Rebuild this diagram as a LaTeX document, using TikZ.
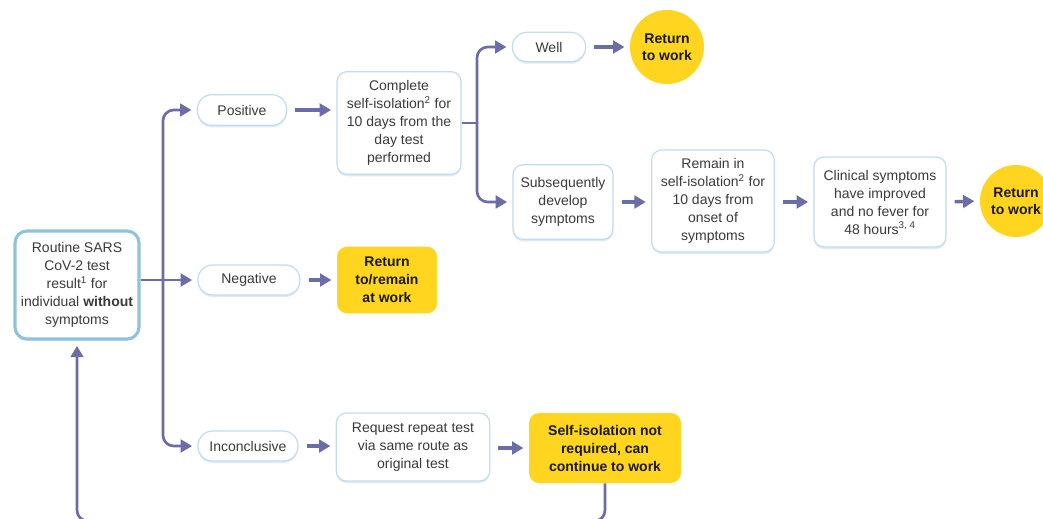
\documentclass[tikz,border=0pt]{standalone}
\usepackage{fontspec}
\setmainfont{Liberation Sans}
\usetikzlibrary{arrows.meta,shadows}
\definecolor{lnc}{HTML}{6C6CA8}
\definecolor{bdr}{HTML}{C3DCEC}
\definecolor{rbdr}{HTML}{8FC2DC}
\definecolor{ylw}{HTML}{FFD520}
\definecolor{txt}{HTML}{3A3A3A}
\definecolor{shd}{HTML}{B5D3E8}
\tikzset{
  base/.style={align=center, font=\fontsize{10.5}{13.5}\selectfont, text=txt, inner sep=1pt},
  wbox/.style={base, draw=bdr, line width=0.9pt, fill=white, rounded corners=7.5pt,
     drop shadow={shadow xshift=0pt, shadow yshift=-1.5pt, fill=shd, opacity=0.45}},
  pill/.style={wbox, rounded corners=11pt},
  ybox/.style={base, fill=ylw, rounded corners=7.5pt, font=\fontsize{10.5}{13.5}\selectfont\bfseries, text=black!90},
  ycirc/.style={base, circle, fill=ylw, font=\fontsize{10.5}{13}\selectfont\bfseries, text=black!90},
  conn/.style={draw=lnc, line width=2pt},
  arr/.style={conn, -{Triangle[length=8.5pt,width=9.5pt]}, shorten >=4pt},
  arrs/.style={arr, line width=2.6pt, shorten <=6pt},
}
\begin{document}
\begin{tikzpicture}[x=0.75pt,y=-0.75pt]
\clip (0,0) rectangle (1043,518);
\fill[white] (0,0) rectangle (1043,518);

\node[wbox, draw=rbdr, line width=2.3pt, minimum width=93pt, minimum height=81pt, rounded corners=9pt] (routine) at (77,285)
  {Routine SARS\\CoV-2 test\\result\textsuperscript{1} for\\individual \textbf{without}\\symptoms};

\node[pill, minimum width=67pt, minimum height=23pt] (pos) at (242,110) {Positive};
\node[pill, minimum width=76.5pt, minimum height=22.5pt] (neg) at (249,280) {Negative};
\node[pill, minimum width=75pt, minimum height=22.5pt] (inc) at (248,446) {Inconclusive};

\node[wbox, minimum width=93pt, minimum height=77pt] (compl) at (399,123)
  {Complete\\self-isolation\textsuperscript{2} for\\10 days from the\\day test\\performed};
\node[ybox, minimum width=75pt, minimum height=50pt] (rem) at (387,280)
  {Return\\to/remain\\at work};
\node[wbox, minimum width=115pt, minimum height=51pt] (req) at (413,447)
  {Request repeat test\\via same route as\\original test};
\node[ybox, minimum width=114pt, minimum height=52.5pt] (self) at (605,448)
  {Self-isolation not\\required, can\\continue to work};

\node[pill, minimum width=55pt, minimum height=22pt] (well) at (549,47) {Well};
\node[ycirc, minimum size=55.5pt] (ret1) at (667,47) {Return\\to work};

\node[wbox, minimum width=75pt, minimum height=56pt] (subs) at (563,202)
  {Subsequently\\develop\\symptoms};
\node[wbox, minimum width=92pt, minimum height=76.5pt] (remain) at (713,201)
  {Remain in\\self-isolation\textsuperscript{2} for\\10 days from\\onset of\\symptoms};
\node[wbox, minimum width=99pt, minimum height=67.5pt] (clin) at (880,202)
  {Clinical symptoms\\have improved\\and no fever for\\48 hours\textsuperscript{3, 4}};
\node[ycirc, minimum size=54pt] (ret2) at (1016,201) {Return\\to work};

% junction points
\coordinate (tr) at (163,280);
\coordinate (br) at (477,123);
\coordinate (lb) at (340,521);

\draw[arr] (routine.east |- neg.west) -- (neg.west);
\draw[arr, rounded corners=8pt] (tr) |- (pos.west);
\draw[arr, rounded corners=8pt] (tr) |- (inc.west);

\draw[arrs] (pos.east) -- (compl.west |- pos.east);
\draw[arrs] (neg.east) -- (rem.west);
\draw[arrs] (inc.east) -- (req.west |- inc.east);
\draw[arrs] (req.east |- self.west) -- (self.west);

\draw[conn] (compl.east) -- (br);
\draw[arr, rounded corners=8pt] (br) |- (well.west);
\draw[arr, rounded corners=8pt] (br) |- (subs.west);
\draw[arrs] (well.east) -- (ret1.west);
\draw[arrs] (subs.east) -- (remain.west |- subs.east);
\draw[arrs] (remain.east |- clin.west) -- (clin.west);
\draw[arrs] (clin.east) -- (ret2.west);

% loop back
\draw[arr, rounded corners=8pt] (self.south) |- (lb) -| (routine.south);
\end{tikzpicture}
\end{document}
